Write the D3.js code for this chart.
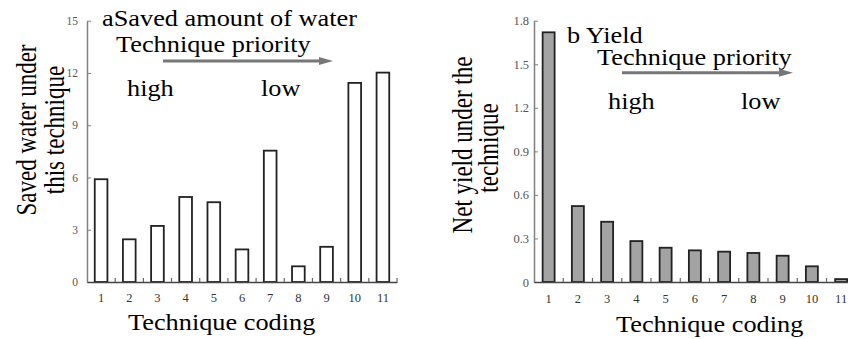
<!DOCTYPE html>
<html>
<head>
<meta charset="utf-8">
<script src="https://cdn.jsdelivr.net/npm/d3@7"></script>
<style>
  body { margin: 0; background: #fff; }
  svg { display: block; }
</style>
</head>
<body>
<svg id="chart" width="848" height="339"></svg>
<script>
// technique codes 1..11 and the values
const codes = [1, 2, 3, 4, 5, 6, 7, 8, 9, 10, 11];
const savedWater = [5.9, 2.45, 3.22, 4.88, 4.58, 1.87, 7.54, 0.9, 2.02, 11.43, 12.02];
const netYield = [1.72, 0.523, 0.415, 0.282, 0.236, 0.218, 0.209, 0.2, 0.181, 0.108, 0.02];
const waterTicks = [0, 3, 6, 9, 12, 15];
const yieldTicks = [0, 0.3, 0.6, 0.9, 1.2, 1.5, 1.8];

const serif = "'Liberation Serif', 'Times New Roman', Times, serif";
const stretch = 1.17;   // the source picture is a bit wider than tall
const svg = d3.select("#chart");

function label(g, txt, x, y, size) {
  g.append("text")
    .attr("transform", "translate(" + x + "," + y + ") scale(" + stretch + ",1)")
    .attr("font-family", serif)
    .attr("font-size", size)
    .attr("fill", "#000")
    .text(txt);
}

// rotated axis titles look even wider across in the source
function vlabel(g, txt, x, y, size) {
  g.append("text")
    .attr("transform", "translate(" + x + "," + y + ") rotate(-90) scale(1,1.25)")
    .attr("text-anchor", "middle")
    .attr("font-family", serif)
    .attr("font-size", size)
    .attr("fill", "#000")
    .text(txt);
}

function arrow(g, x1, x2, y, w) {
  g.append("line")
    .attr("x1", x1).attr("x2", x2 - 12)
    .attr("y1", y).attr("y2", y)
    .attr("stroke", "#777").attr("stroke-width", w);
  g.append("path")
    .attr("d", "M" + (x2 - 14) + "," + (y - 4) + "L" + x2 + "," + y + "L" + (x2 - 14) + "," + (y + 4) + "Z")
    .attr("fill", "#777");
}

function panel(cfg) {
  const g = svg.append("g");
  const x = d3.scaleBand().domain(codes).range(cfg.xr).paddingInner(cfg.pad).paddingOuter(cfg.pad / 2);
  const y = d3.scaleLinear().domain(cfg.yd).range([282, 20.7]);

  // bars
  g.selectAll("rect.bar")
    .data(cfg.values)
    .join("rect")
    .attr("class", "bar")
    .attr("x", (d, i) => x(codes[i]))
    .attr("width", x.bandwidth())
    .attr("y", d => y(d))
    .attr("height", d => y(0) - y(d))
    .attr("fill", cfg.fill)
    .attr("stroke", "#222")
    .attr("stroke-width", 1.8);

  // y axis, ticks pointing inward
  const ya = g.append("g")
    .attr("transform", "translate(" + cfg.xr[0] + ",0)")
    .call(d3.axisLeft(y).tickValues(cfg.ticks).tickSizeInner(-4).tickSizeOuter(0)
      .tickPadding(cfg.tp).tickFormat(cfg.fmt));
  ya.attr("font-family", serif);
  ya.select(".domain").attr("stroke", "#808080").attr("stroke-width", 1.5);
  ya.selectAll(".tick line").attr("stroke", "#808080");
  ya.selectAll(".tick text")
    .attr("font-size", cfg.ys)
    .attr("fill", "#555");

  // x axis
  const xa = g.append("g")
    .attr("transform", "translate(0,282)")
    .call(d3.axisBottom(x).tickSize(0).tickPadding(cfg.xp));
  xa.attr("font-family", serif);
  xa.select(".domain").attr("stroke", "#444").attr("stroke-width", 1.5);
  xa.selectAll(".tick text")
    .attr("font-size", 12.5)
    .attr("fill", "#333");

  // small upward ticks on the band boundaries
  g.selectAll("line.bnd")
    .data(codes)
    .join("line")
    .attr("class", "bnd")
    .attr("x1", (d, i) => cfg.xr[0] + x.step() * (i + 1))
    .attr("x2", (d, i) => cfg.xr[0] + x.step() * (i + 1))
    .attr("y1", 282).attr("y2", 278)
    .attr("stroke", "#666").attr("stroke-width", 1.2);

  return g;
}

const ga = panel({
  xr: [87, 397], pad: 0.55, yd: [0, 15], values: savedWater, fill: "#fff",
  ticks: waterTicks, tp: 9, ys: 11.5, xp: 11, fmt: d3.format("d")
});
label(ga, "aSaved amount of water", 102, 26, 22.5);
label(ga, "Technique priority", 116, 52, 22.5);
arrow(ga, 163, 333, 61, 3);
label(ga, "high", 127, 96, 22.5);
label(ga, "low", 261, 96, 22.5);
label(ga, "Technique coding", 128, 330, 22.5);
vlabel(ga, "Saved water under", 36, 130, 23);
vlabel(ga, "this technique", 64, 130, 23);

const gb = panel({
  xr: [534, 534 + 11 * 29.25], pad: 0.59, yd: [0, 1.8], values: netYield, fill: "#a3a3a3",
  ticks: yieldTicks, tp: 5, ys: 12.5, xp: 12, fmt: d => d === 0 ? "0" : d3.format(".1f")(d)
});
label(gb, "b Yield", 567, 43, 22.5);
label(gb, "Technique priority", 597, 65, 22.5);
arrow(gb, 622, 793, 72.7, 3);
label(gb, "high", 608, 109, 22.5);
label(gb, "low", 741, 109, 22.5);
label(gb, "Technique coding", 616, 332, 22.5);
vlabel(gb, "Net yield under the", 472, 145, 23);
vlabel(gb, "technique", 498, 148, 23);
</script>
</body>
</html>
